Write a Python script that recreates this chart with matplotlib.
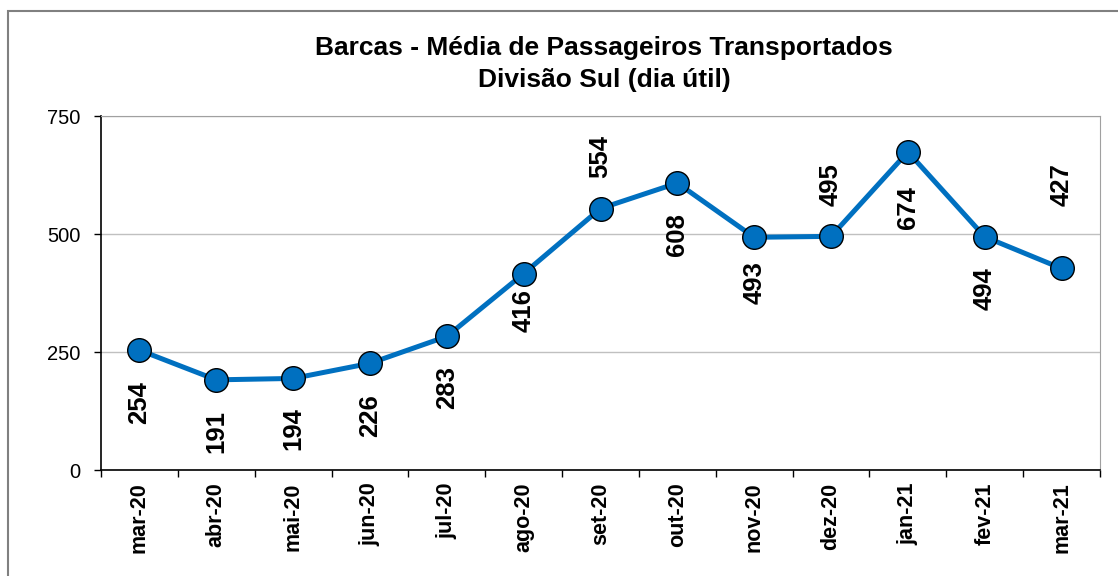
import matplotlib.pyplot as plt
from matplotlib.patches import Rectangle

months = ["mar-20", "abr-20", "mai-20", "jun-20", "jul-20", "ago-20", "set-20",
          "out-20", "nov-20", "dez-20", "jan-21", "fev-21", "mar-21"]
passageiros = [254, 191, 194, 226, 283, 416, 554, 608, 493, 495, 674, 494, 427]

# label offset in points (negative = below the marker)
label_offset = [-22, -22, -21, -22, -21, -11, 22, -22, -17, 22, -25, -22, 45]

plt.rcParams['font.family'] = ['Liberation Sans', 'DejaVu Sans']

fig = plt.figure(figsize=(11.18, 5.76), dpi=100)
ax = fig.add_axes([101 / 1118, 106 / 576, 999 / 1118, 354 / 576])

# outer chart border
fig.patches.append(Rectangle((8 / 1118, -0.1), 1.2, 0.1 + 565 / 576, transform=fig.transFigure,
                             fill=False, edgecolor='#808080', linewidth=1.5))

x = list(range(len(months)))
ax.plot(x, passageiros, color='#0070C0', linewidth=3.6, marker='o', markersize=17,
        markerfacecolor='#0070C0', markeredgecolor='black', markeredgewidth=1, zorder=3)

for xi, v, off in zip(x, passageiros, label_offset):
    ax.annotate(str(v), (xi, v), xytext=(0, off), textcoords='offset points',
                rotation=90, ha='center', va='bottom' if off > 0 else 'top',
                fontsize=18.5, fontweight='bold')

ax.set_xlim(-0.5, len(months) - 0.5)
ax.set_ylim(0, 750)
ax.set_yticks([0, 250, 500, 750])
ax.yaxis.grid(True, color='#C0C0C0', linewidth=1)
ax.set_axisbelow(True)

ax.set_xticks(x)
ax.set_xticklabels(months, rotation=90, fontsize=15.5, fontweight='bold')
ax.set_xticks([i - 0.5 for i in range(len(months) + 1)], minor=True)
ax.tick_params(axis='x', which='major', length=0, pad=9)
ax.tick_params(axis='x', which='minor', length=5, direction='out', width=1)
ax.tick_params(axis='y', length=5, direction='out', labelsize=14.5, pad=10, width=1)

ax.spines['top'].set_color('#A0A0A0')
ax.spines['right'].set_color('#A0A0A0')
ax.spines['left'].set_linewidth(1.2)
ax.spines['bottom'].set_linewidth(1.2)

fig.text(604 / 1118, 1 - 48 / 576, "Barcas - Média de Passageiros Transportados",
         ha='center', va='center', fontsize=19, fontweight='bold')
fig.text(604 / 1118, 1 - 80 / 576, "Divisão Sul (dia útil)",
         ha='center', va='center', fontsize=19, fontweight='bold')

fig.savefig("out.png", dpi=100)
